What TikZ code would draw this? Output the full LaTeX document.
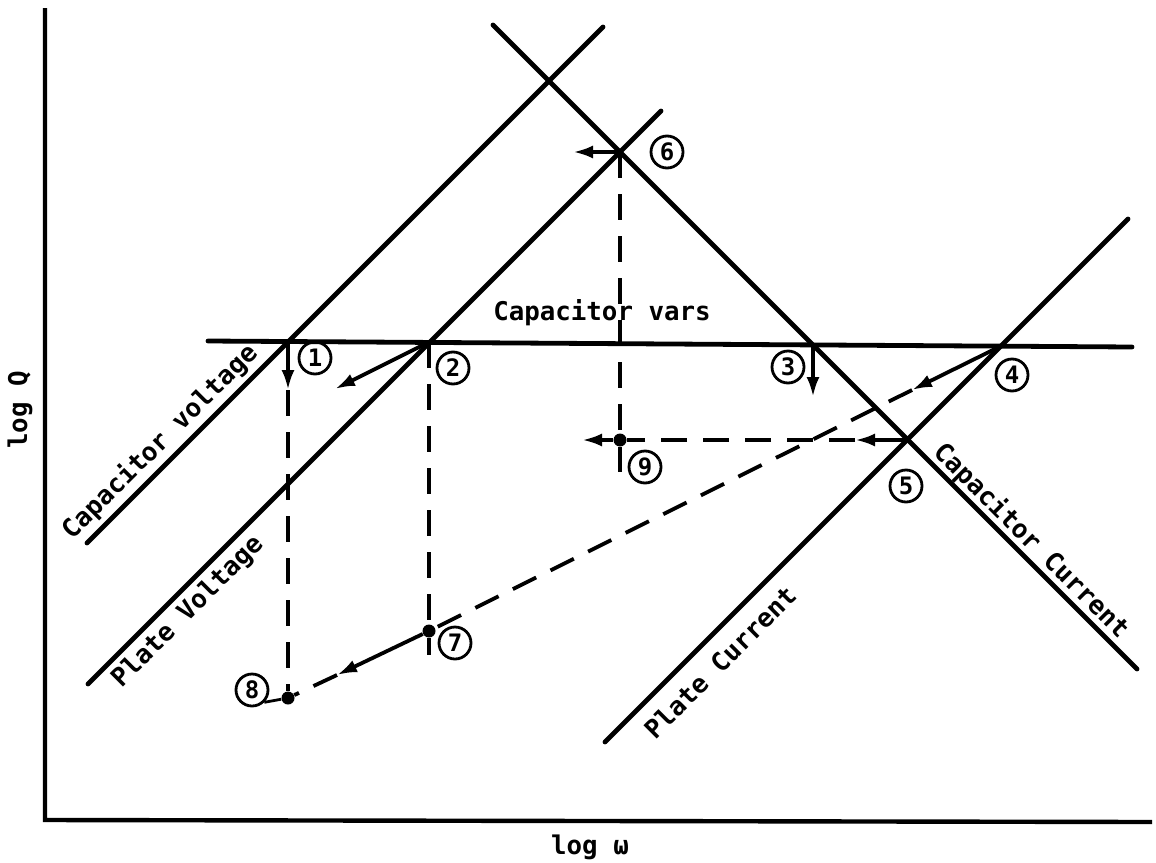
\documentclass[tikz,border=0pt]{standalone}
\usepackage{fontspec}
\setmainfont{DejaVu Sans Mono}
\usetikzlibrary{arrows.meta}

\begin{document}
\begin{tikzpicture}[
  x=0.5pt, y=-0.5pt,
  >={Latex[length=10pt,width=6.5pt]},
  axis/.style={line width=2.2pt},
  curve/.style={line width=2.4pt, line cap=round},
  move/.style={->, line width=1.9pt},
  trace/.style={line width=1.9pt, dash pattern=on 13pt off 8pt},
  tick/.style={line width=1.9pt},
  pnum/.style={draw, circle, line width=1.4pt, minimum size=16pt, inner sep=0pt, font=\fontsize{12}{12}\selectfont\bfseries},
  dot/.style={circle, fill, inner sep=0pt, minimum size=6.5pt},
  lbl/.style={font=\fontsize{12.9}{15}\selectfont\bfseries, inner sep=1pt},
]
\useasboundingbox (0,0) rectangle (1156,862);

% === AXES ===
\coordinate (top) at (45,8);
\coordinate (origin) at (45,820);
\coordinate (right) at (1152,822);
\draw[axis] (top) -- (origin) -- (right);
\node[lbl, rotate=90] (ylab) at (20,410) {log Q};
\node[lbl] (xlab) at (590,847) {log ω};

% === CURVES ===
\coordinate (cv-lo) at (87,543);
\coordinate (cv-hi) at (603,27);
\coordinate (pv-lo) at (88,684);
\coordinate (pv-hi) at (661,111);
\coordinate (cc-hi) at (493,25);
\coordinate (cc-lo) at (1137,669);
\coordinate (pc-lo) at (605,742);
\coordinate (pc-hi) at (1128,219);
\coordinate (vars-l) at (208,341);
\coordinate (vars-r) at (1132,347);

\draw[curve] (cv-lo) -- (cv-hi);
\draw[curve] (pv-lo) -- (pv-hi);
\draw[curve] (cc-hi) -- (cc-lo);
\draw[curve] (pc-lo) -- (pc-hi);
\draw[curve] (vars-l) -- (vars-r);

\node[lbl, rotate=45] (cvlab) at (160,442) {Capacitor voltage};
\node[lbl, rotate=45] (pvlab) at (188,612) {Plate Voltage};
\node[lbl, rotate=-45] (cclab) at (1031,541) {Capacitor Current};
\node[lbl, rotate=45] (pclab) at (720,662) {Plate Current};
\node[lbl] (varslab) at (602,313) {Capacitor vars};

% === OPERATING POINTS ===
\coordinate (p1) at (288,342);
\coordinate (p2) at (429,342);
\coordinate (p3) at (813,345);
\coordinate (p4) at (1001,346);
\coordinate (p5) at (907,440);
\coordinate (p6) at (620,152);
\node[dot] (p7) at (429,631) {};
\node[dot] (p8) at (288,698) {};
\node[dot] (p9) at (620,440) {};

\coordinate (a1) at (288,390);
\coordinate (a2) at (335,389);
\coordinate (a3) at (813,397);
\coordinate (a4) at (912,390);
\coordinate (a5) at (855,440);
\coordinate (a6) at (573,152);
\coordinate (a7) at (337,675);
\coordinate (a9) at (582,440);
\coordinate (t7) at (429,655);
\coordinate (t9) at (620,472);

% === MOVES ===
\draw[move] (p1) -- (a1);
\draw[move] (p2) -- (a2);
\draw[move] (p3) -- (a3);
\draw[move] (p4) -- (a4);
\draw[move] (p5) -- (a5);
\draw[move] (p6) -- (a6);
\draw[move] (p7) -- (a7);
\draw[move] (p9) -- (a9);

\draw[trace] (a1) -- (p8);
\draw[trace] (p2) -- (p7);
\draw[trace] (a4) -- (p7);
\draw[trace] (a7) -- (p8);
\draw[trace] (a5) -- (p9);
\draw[trace] (p6) -- (p9);
\draw[tick] (p7) -- (t7);
\draw[tick] (p9) -- (t9);

% === NUMBERS ===
\node[pnum] (n1) at (315,358) {1};
\node[pnum] (n2) at (453,368) {2};
\node[pnum] (n3) at (788,367) {3};
\node[pnum] (n4) at (1012,375) {4};
\node[pnum] (n5) at (906,486) {5};
\node[pnum] (n6) at (667,152) {6};
\node[pnum] (n7) at (455,643) {7};
\node[pnum] (n8) at (252,690) {8};
\node[pnum] (n9) at (645,467) {9};
\draw[line width=1.4pt] (p8) -- (n8.south east);

\end{tikzpicture}
\end{document}
